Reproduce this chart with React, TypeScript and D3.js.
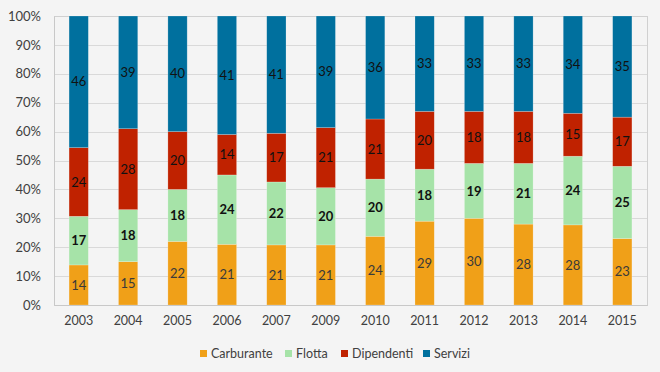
import React, { useEffect, useRef } from 'react';
import * as d3 from 'd3';

const years = ['2003', '2004', '2005', '2006', '2007', '2009', '2010', '2011', '2012', '2013', '2014', '2015'];
const carburante = [14, 15, 22, 21, 21, 21, 24, 29, 30, 28, 28, 23];
const flotta = [17, 18, 18, 24, 22, 20, 20, 18, 19, 21, 24, 25];
const dipendenti = [24, 28, 20, 14, 17, 21, 21, 20, 18, 18, 15, 17];
const servizi = [46, 39, 40, 41, 41, 39, 36, 33, 33, 33, 34, 35];
const seriesNames = ['Carburante', 'Flotta', 'Dipendenti', 'Servizi'];
const colors = ['#F0A018', '#A6E3A8', '#C02200', '#00709E'];
const yTicks = [0, 0.1, 0.2, 0.3, 0.4, 0.5, 0.6, 0.7, 0.8, 0.9, 1];

const FONT = "Lato, 'Open Sans', sans-serif";

const App = () => {
  const svgRef = useRef<SVGSVGElement>(null);

  useEffect(() => {
    const svg = d3.select(svgRef.current);
    svg.selectAll('*').remove();
    const width = 660;
    const height = 372;
    const margin = { top: 16, right: 13, bottom: 67, left: 54 };
    const innerWidth = width - margin.left - margin.right;
    const innerHeight = height - margin.top - margin.bottom;

    svg.append('rect').attr('width', width).attr('height', height).attr('fill', '#f4f4f4');

    const rows = years.map((y, i) => ({
      year: y,
      Carburante: carburante[i],
      Flotta: flotta[i],
      Dipendenti: dipendenti[i],
      Servizi: servizi[i],
    }));

    const stack = d3.stack<any>().keys(seriesNames).offset(d3.stackOffsetExpand);
    const series = stack(rows);

    const x = d3.scaleBand().domain(years).range([0, innerWidth]).paddingInner(0.61).paddingOuter(0.305);
    const y = d3.scaleLinear().domain([0, 1]).range([innerHeight, 0]);

    const g = svg.append('g').attr('transform', `translate(${margin.left},${margin.top})`);

    // grid
    g.append('g')
      .selectAll('line')
      .data(yTicks)
      .enter()
      .append('line')
      .attr('x1', 0)
      .attr('x2', innerWidth)
      .attr('y1', d => Math.round(y(d)) + 0.5)
      .attr('y2', d => Math.round(y(d)) + 0.5)
      .attr('stroke', '#d9d9d9')
      .attr('stroke-width', 1);

    // plot border
    g.append('rect')
      .attr('x', 0.5)
      .attr('y', 0.5)
      .attr('width', innerWidth)
      .attr('height', innerHeight)
      .attr('fill', 'none')
      .attr('stroke', '#d0d0d0');

    // bars
    const layers = g.selectAll('.layer')
      .data(series)
      .enter()
      .append('g')
      .attr('fill', (d, i) => colors[i]);

    layers.selectAll('rect')
      .data(d => d)
      .enter()
      .append('rect')
      .attr('x', d => x(d.data.year)!)
      .attr('y', d => y(d[1]))
      .attr('width', x.bandwidth())
      .attr('height', d => y(d[0]) - y(d[1]))
      .attr('stroke', 'rgba(255,255,255,0.35)')
      .attr('stroke-width', 0.6);

    // labels
    const labelColors = ['#3a3a3a', '#111', '#111', '#111'];
    const labelWeights = ['normal', 'bold', 'normal', 'normal'];
    series.forEach((s, si) => {
      g.append('g')
        .selectAll('text')
        .data(s)
        .enter()
        .append('text')
        .attr('x', d => x(d.data.year)! + x.bandwidth() / 2)
        .attr('y', d => (y(d[0]) + y(d[1])) / 2)
        .attr('dy', '0.36em')
        .attr('text-anchor', 'middle')
        .style('font-family', FONT)
        .style('font-size', '13px')
        .style('font-weight', labelWeights[si])
        .attr('fill', labelColors[si])
        .text(d => d.data[seriesNames[si]]);
    });

    // y axis
    const yAxis = g.append('g').call(d3.axisLeft(y).tickValues(yTicks).tickFormat(d3.format('.0%')).tickSize(0).tickPadding(13));
    yAxis.select('.domain').attr('stroke', '#c8c8c8');
    yAxis.selectAll('text').style('font-family', FONT).style('font-size', '13px').attr('fill', '#404040');

    // x axis
    const xAxis = g.append('g')
      .attr('transform', `translate(0,${innerHeight})`)
      .call(d3.axisBottom(x).tickSize(0).tickPadding(11));
    xAxis.select('.domain').attr('stroke', '#c8c8c8');
    xAxis.selectAll('text').style('font-family', FONT).style('font-size', '12.5px').attr('fill', '#404040');

    // legend
    const legendX = [200, 285, 341, 423];
    const legend = svg.append('g').attr('transform', 'translate(0,354)');
    seriesNames.forEach((name, i) => {
      legend.append('rect')
        .attr('x', legendX[i])
        .attr('y', -4)
        .attr('width', 7)
        .attr('height', 7)
        .attr('fill', colors[i]);
      legend.append('text')
        .attr('x', legendX[i] + 11)
        .attr('y', 0)
        .attr('dy', '0.35em')
        .style('font-family', FONT)
        .style('font-size', '12.5px')
        .attr('fill', '#404040')
        .text(name);
    });
  }, []);

  return (
    <svg ref={svgRef} width={660} height={372} style={{ display: 'block', position: 'absolute', left: 0, top: 0 }}></svg>
  );
};

export default App;
